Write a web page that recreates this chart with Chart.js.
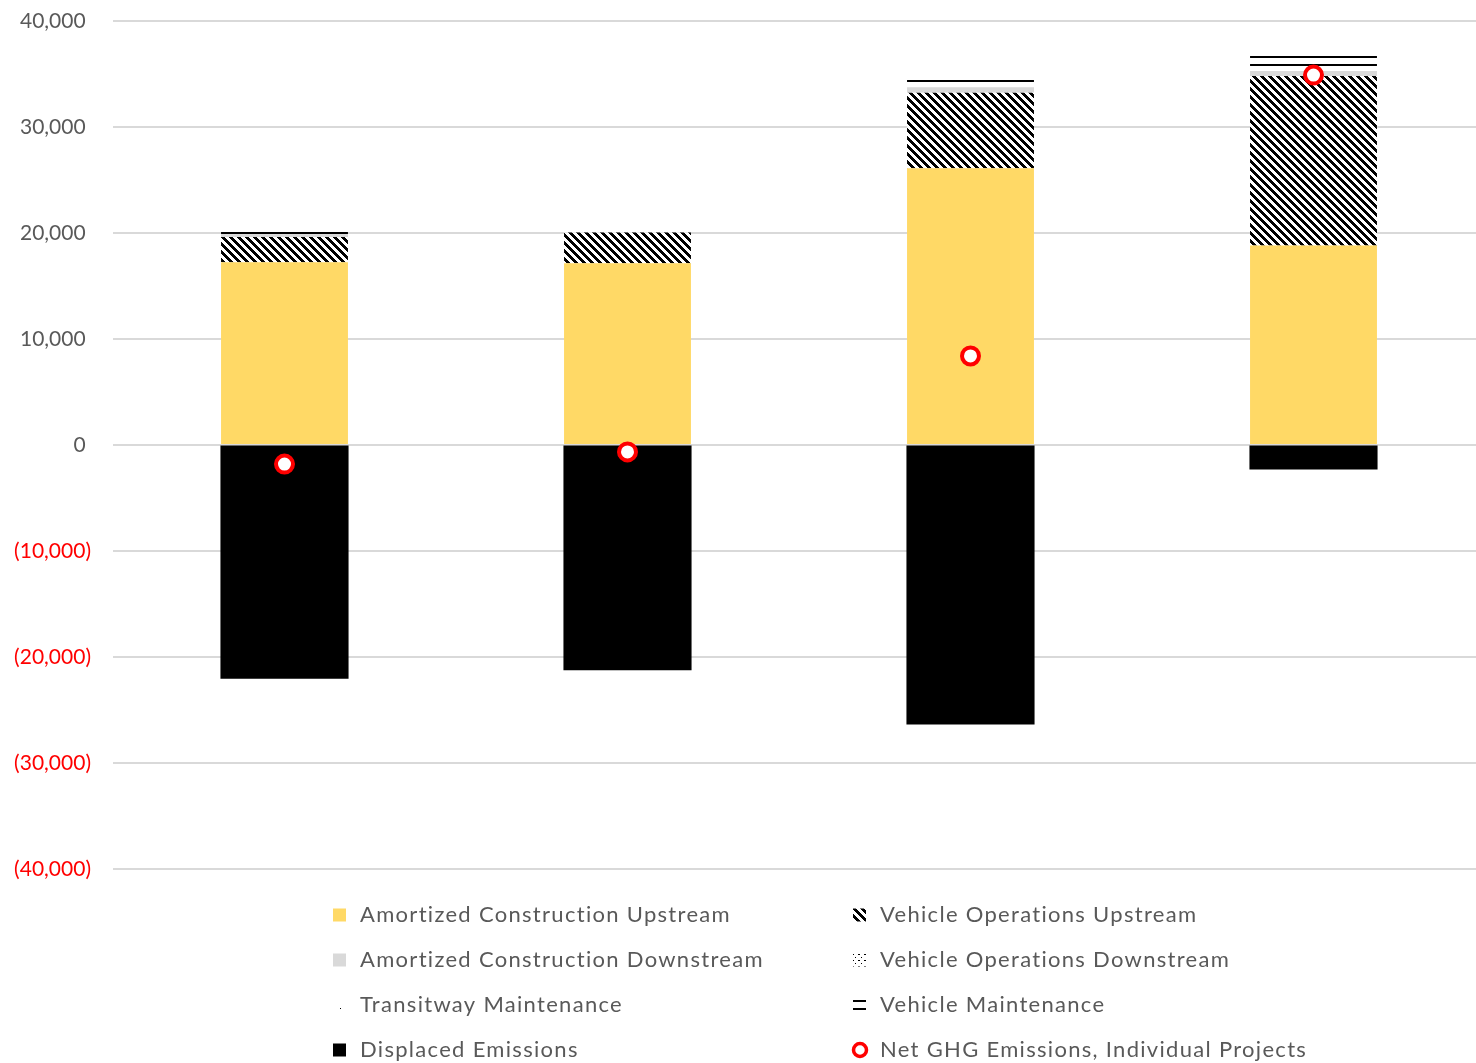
<!DOCTYPE html>
<html>
<head>
<meta charset="utf-8">
<script src="https://cdn.jsdelivr.net/npm/chart.js@4/dist/chart.umd.min.js"></script>
<style>
  html, body { margin: 0; padding: 0; background: #ffffff; overflow: hidden; }
  #wrap { width: 1490px; height: 1063px; }
  canvas { display: block; width: 1490px; height: 1063px; }
</style>
</head>
<body>
<div id="wrap"><canvas id="ghg" width="1490" height="1063"></canvas></div>
<script>
// Annualized GHG emissions by component, per project
const categories = ['Project 1', 'Project 2', 'Project 3', 'Project 4'];
const amortizedConstructionUpstream   = [17250, 17150, 26100, 18820];
const vehicleOperationsUpstream       = [2370, 2900, 7140, 15990];
const amortizedConstructionDownstream = [280, 50, 510, 470];
const vehicleOperationsDownstream     = [0, 0, 0, 0];
const transitwayMaintenance           = [0, 0, 500, 100];
const vehicleMaintenance              = [190, 0, 190, 1315];
const displacedEmissions              = [-22000, -21200, -26320, -2250];
const netGhgEmissions                 = [-1800, -650, 8400, 34900];

const seriesNames = [
  'Amortized Construction Upstream',
  'Vehicle Operations Upstream',
  'Amortized Construction Downstream',
  'Vehicle Operations Downstream',
  'Transitway Maintenance',
  'Vehicle Maintenance',
  'Displaced Emissions',
  'Net GHG Emissions, Individual Projects'
];

const yTickValues = [40000, 30000, 20000, 10000, 0, -10000, -20000, -30000, -40000];
const yTickLabels = ['40,000 ', '30,000 ', '20,000 ', '10,000 ', '0 ',
                     '(10,000)', '(20,000)', '(30,000)', '(40,000)'];

// Small bitmap fills used for the patterned series
function makePattern(w, h, isInk, ink, paper) {
  const c = document.createElement('canvas');
  c.width = w; c.height = h;
  const g = c.getContext('2d');
  g.fillStyle = paper; g.fillRect(0, 0, w, h);
  g.fillStyle = ink;
  for (let y = 0; y < h; y++) {
    for (let x = 0; x < w; x++) {
      if (isInk(x, y)) g.fillRect(x, y, 1, 1);
    }
  }
  return document.getElementById('ghg').getContext('2d').createPattern(c, 'repeat');
}

const diagonalHatch = makePattern(8, 8, (x, y) => ((x - y) % 8 + 8) % 8 < 4, '#000000', '#ffffff');
const fineDots      = makePattern(6, 6, (x, y) => (x === 0 && y === 0) || (x === 3 && y === 3) || (x === 1 && y === 0), '#000000', '#ffffff');
const sparseDots    = makePattern(16, 16, (x, y) => x === 4 && y === 0, '#000000', '#ffffff');
const horizLines    = makePattern(8, 8, (x, y) => y < 2, '#000000', '#ffffff');

const legendFont = '22px Lato';
const textGrey = '#595959';

// Two-column legend under the plot area
const gridLegend = {
  id: 'gridLegend',
  afterDraw(chart) {
    const ctx = chart.ctx;
    ctx.save();
    ctx.font = legendFont;
    if ('letterSpacing' in ctx) ctx.letterSpacing = '1.3px';
    ctx.textBaseline = 'middle';
    ctx.textAlign = 'left';
    chart.data.datasets.forEach((ds, i) => {
      const col = i % 2;
      const row = Math.floor(i / 2);
      const sx = col ? 853 : 333;
      const tx = col ? 880 : 360;
      const cy = 915 + row * 45;
      if (ds.type === 'line') {
        ctx.beginPath();
        ctx.arc(sx + 7, cy, 6.5, 0, Math.PI * 2);
        ctx.fillStyle = '#ffffff';
        ctx.fill();
        ctx.lineWidth = 3.5;
        ctx.strokeStyle = ds.borderColor;
        ctx.stroke();
      } else {
        ctx.fillStyle = ds.backgroundColor;
        ctx.fillRect(sx, cy - 6.5, 13, 13);
      }
      ctx.fillStyle = textGrey;
      ctx.fillText(ds.label, tx, cy);
    });
    ctx.restore();
  }
};

function barSet(label, data, fill, inflate) {
  return {
    type: 'bar', label, data, backgroundColor: fill, borderWidth: 0,
    stack: 'parts', order: 1, inflateAmount: inflate === undefined ? 'auto' : inflate
  };
}

new Chart(document.getElementById('ghg'), {
  type: 'bar',
  data: {
    labels: categories,
    datasets: [
      barSet(seriesNames[0], amortizedConstructionUpstream, '#ffd966'),
      barSet(seriesNames[1], vehicleOperationsUpstream, diagonalHatch),
      barSet(seriesNames[2], amortizedConstructionDownstream, '#d9d9d9'),
      barSet(seriesNames[3], vehicleOperationsDownstream, fineDots),
      barSet(seriesNames[4], transitwayMaintenance, sparseDots),
      barSet(seriesNames[5], vehicleMaintenance, horizLines),
      barSet(seriesNames[6], displacedEmissions, '#000000', 0.6),
      {
        type: 'line',
        label: seriesNames[7],
        data: netGhgEmissions,
        stack: 'net',
        order: 0,
        showLine: false,
        clip: false,
        pointStyle: 'circle',
        pointRadius: 8.5,
        borderWidth: 4,
        borderColor: '#ff0000',
        backgroundColor: '#ffffff'
      }
    ]
  },
  options: {
    responsive: false,
    animation: false,
    events: [],
    layout: { autoPadding: false, padding: { top: 21, right: 5, bottom: 194, left: 0 } },
    datasets: { bar: { categoryPercentage: 1, barPercentage: 0.37 } },
    plugins: { legend: { display: false }, tooltip: { enabled: false }, title: { display: false } },
    scales: {
      x: { stacked: true, display: false },
      y: {
        stacked: true,
        min: -40000,
        max: 40000,
        afterFit(scale) {
          scale.width = 113;
          scale.paddingTop = 12;
          scale.paddingBottom = 12;
        },
        border: { display: false },
        grid: { color: '#d9d9d9', lineWidth: 2, drawTicks: false },
        ticks: {
          stepSize: 10000,
          padding: 22,
          font: { family: 'Lato', size: 21 },
          color: (c) => (c.tick && c.tick.value < 0 ? '#ff0000' : textGrey),
          callback: (v) => yTickLabels[yTickValues.indexOf(v)]
        }
      }
    }
  },
  plugins: [gridLegend]
});
</script>
</body>
</html>
